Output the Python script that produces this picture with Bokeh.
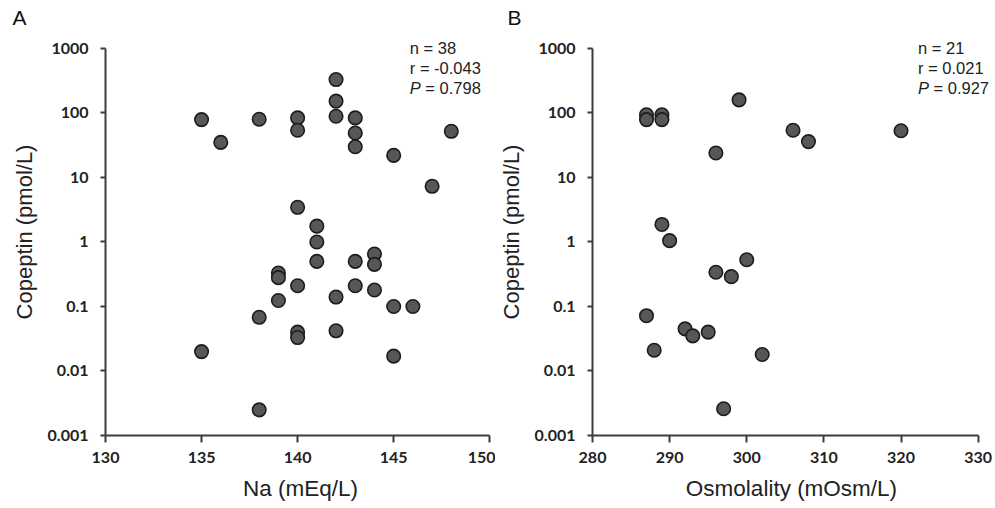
from bokeh.plotting import figure
from bokeh.layouts import row
from bokeh.models import FixedTicker, CustomJSTickFormatter, Label
from bokeh.embed import file_html
from bokeh.resources import INLINE

# Panel A: serum sodium vs copeptin
na_a = [135, 135, 136, 138, 138, 138, 139, 139, 139,
        140, 140, 140, 140, 140, 140, 141, 141, 141,
        142, 142, 142, 142, 142, 143, 143, 143, 143, 143,
        144, 144, 144, 145, 145, 145, 146, 147, 148]
copeptin_a = [79, 0.020, 35, 80, 0.068, 0.0025, 0.33, 0.28, 0.124,
              84, 54, 3.45, 0.21, 0.040, 0.033, 1.76, 1.0, 0.50,
              330, 153, 89, 0.14, 0.042, 84, 49, 30, 0.50, 0.21,
              0.65, 0.45, 0.18, 22, 0.10, 0.017, 0.10, 7.3, 52]

# Panel B: serum osmolality vs copeptin
osm_b = [287, 287, 287, 288, 289, 289, 289, 290, 292, 293, 295,
         296, 296, 297, 298, 299, 300, 302, 306, 308, 320]
copeptin_b = [94, 79, 0.072, 0.021, 94, 79, 1.87, 1.05, 0.045, 0.035, 0.040,
              24, 0.34, 0.0026, 0.29, 160, 0.53, 0.018, 54, 36, 53]

y_ticks = [0.001, 0.01, 0.1, 1, 10, 100, 1000]
x_ticks_a = [130, 135, 140, 145, 150]
x_ticks_b = [280, 290, 300, 310, 320, 330]

stats_a = ["n = 38", "r = -0.043", "= 0.798"]
stats_b = ["n = 21", "r = 0.021", "= 0.927"]

AXIS_COLOR = "#3c3c3c"
TEXT_COLOR = "#222222"

# the plotting frame reaches a little past the last ticks (top and right)
# so the statistics text is not clipped; axis lines stop at the last tick
Y_TOP = 10 ** 3.31


def panel(xs, ys, x_ticks, x_end, x_label, letter, stats, stat_x,
          width, border_left, border_right):
    p = figure(width=width, height=508, x_range=(x_ticks[0], x_end),
               y_range=(y_ticks[0], Y_TOP),
               y_axis_type="log", output_backend="svg", toolbar_location=None,
               min_border_left=border_left, min_border_right=border_right,
               min_border_top=28, min_border_bottom=73)
    p.outline_line_color = None
    p.grid.visible = False
    p.background_fill_color = "white"
    p.border_fill_color = "white"

    p.title.text = letter
    p.title.align = "left"
    p.title.offset = -border_left + 12
    p.title.standoff = 0
    p.title.text_font = "Liberation Sans"
    p.title.text_font_style = "normal"
    p.title.text_font_size = "21px"
    p.title.text_color = "#111111"

    p.xaxis.ticker = FixedTicker(ticks=x_ticks, minor_ticks=[])
    p.xaxis.bounds = (x_ticks[0], x_ticks[-1])
    p.yaxis.ticker = FixedTicker(ticks=y_ticks, minor_ticks=[])
    p.yaxis.bounds = (y_ticks[0], y_ticks[-1])
    p.yaxis.formatter = CustomJSTickFormatter(code="return tick.toString();")

    for ax in (p.xaxis[0], p.yaxis[0]):
        ax.axis_line_color = AXIS_COLOR
        ax.axis_line_width = 2
        ax.major_tick_line_color = AXIS_COLOR
        ax.major_tick_line_width = 2
        ax.major_tick_in = 0
        ax.major_label_text_font = "Lato"
        ax.major_label_text_font_style = "bold"
        ax.major_label_text_font_size = "16px"
        ax.major_label_text_color = TEXT_COLOR
        ax.axis_label_text_font = "Liberation Sans"
        ax.axis_label_text_font_style = "normal"
        ax.axis_label_text_color = TEXT_COLOR

    p.xaxis.major_tick_out = 7
    p.xaxis.major_label_standoff = 9
    p.xaxis.axis_label = x_label
    p.xaxis.axis_label_text_font_size = "22.5px"
    p.xaxis.axis_label_standoff = 10

    p.yaxis.major_tick_out = 5
    p.yaxis.major_label_standoff = 12
    p.yaxis.axis_label = "Copeptin (pmol/L)"
    p.yaxis.axis_label_text_font_size = "22px"
    p.yaxis.axis_label_standoff = 8

    p.scatter(xs, ys, marker="circle", size=13.5, fill_color="#575757",
              line_color="#1c1c1c", line_width=1.6)

    # statistics block in the upper right corner
    common = dict(text_font="Liberation Sans", text_font_size="16.5px",
                  text_color=TEXT_COLOR, text_baseline="middle", y=y_ticks[-1])
    p.add_layout(Label(x=stat_x, text=stats[0], y_offset=0, **common))
    p.add_layout(Label(x=stat_x, text=stats[1], y_offset=-20, **common))
    p.add_layout(Label(x=stat_x, text="P", y_offset=-40,
                       text_font_style="italic", **common))
    p.add_layout(Label(x=stat_x, text=stats[2], y_offset=-40,
                       x_offset=15.5, **common))
    return p


pa = panel(na_a, copeptin_a, x_ticks_a, 150.3, "Na (mEq/L)", "A",
           stats_a, 145.84, 495, 105, 0)
pb = panel(osm_b, copeptin_b, x_ticks_b, 331.6, "Osmolality (mOsm/L)", "B",
           stats_b, 322.2, 500, 97, 5)

layout = row(pa, pb, spacing=0)
open("out.html", "w").write(file_html(layout, INLINE))
